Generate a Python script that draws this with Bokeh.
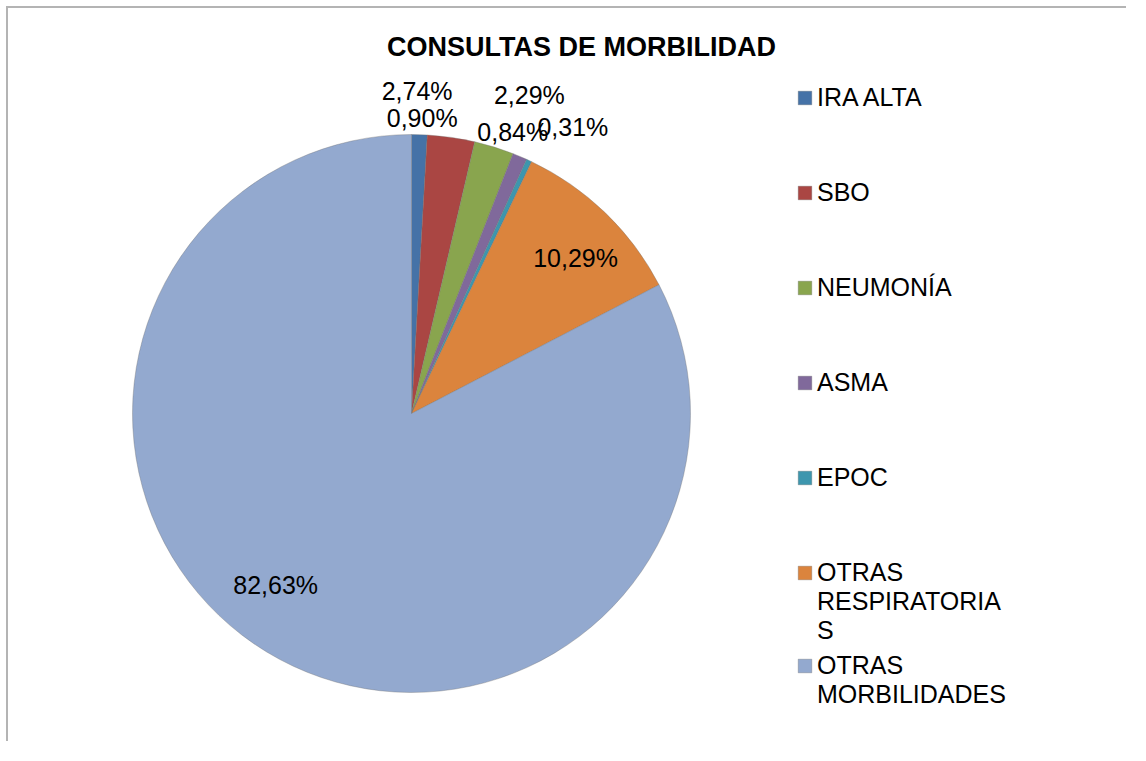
import math
from bokeh.plotting import figure
from bokeh.models import ColumnDataSource, Legend, LegendItem, Label, Range1d
from bokeh.core.properties import value
from bokeh.embed import file_html
from bokeh.resources import INLINE

# ---- data ----
categories = ["IRA ALTA", "SBO", "NEUMONÍA", "ASMA", "EPOC",
              "OTRAS RESPIRATORIAS", "OTRAS MORBILIDADES"]
percent = [0.90, 2.74, 2.29, 0.84, 0.31, 10.29, 82.63]
percent_labels = ["0,90%", "2,74%", "2,29%", "0,84%", "0,31%", "10,29%", "82,63%"]
colors = ["#4572A7", "#AA4643", "#89A54E", "#80699B", "#3D96AE", "#DB843D", "#93A9CF"]
# legend text as wrapped in the reference (first line carries the swatch)
legend_first_line = ["IRA ALTA", "SBO", "NEUMONÍA", "ASMA", "EPOC", "OTRAS", "OTRAS"]
legend_more_lines = [None, None, None, None, None, "RESPIRATORIA\nS", "MORBILIDADES"]

# ---- layout (screen-like units) ----
W, H = 1120, 735
CX, CY, R = 403, 330, 279
label_rfrac = [1.1, 1.1, 1.1, 1.1, 1.1, 0.8, 0.8]
label_nudge_x = [2, -38, 27, -18, 32, 9, -20]
label_nudge_y = [-11, 19, 25, -1, 8, -5, 19]

total = sum(percent)
starts, ends, lx, ly = [], [], [], []
cum = 0.0
for v, rf, nx, ny in zip(percent, label_rfrac, label_nudge_x, label_nudge_y):
    a0 = math.pi / 2 - 2 * math.pi * cum / total
    cum += v
    a1 = math.pi / 2 - 2 * math.pi * cum / total
    starts.append(a0)
    ends.append(a1)
    mid = (a0 + a1) / 2
    lx.append(CX + rf * R * math.cos(mid) + nx)
    ly.append(CY + rf * R * math.sin(mid) + ny)

src = ColumnDataSource(dict(lx=lx, ly=ly, lab=percent_labels))

p = figure(width=W, height=H, output_backend="svg", toolbar_location=None,
           x_range=Range1d(0, W), y_range=Range1d(0, H), min_border=0,
           tools="")
p.axis.visible = False
p.grid.visible = False
p.outline_line_color = None
p.background_fill_color = "white"
p.border_fill_color = "white"
p.styles = {"border-left": "2px solid #b4b4b4", "border-top": "2px solid #b4b4b4",
            "margin-left": "6px", "margin-top": "6px"}

wedges = []
for i in range(len(percent)):
    r = p.wedge(x=CX, y=CY, radius=R, radius_units="screen",
                start_angle=starts[i], end_angle=ends[i], direction="clock",
                fill_color=colors[i], line_color="#6f6f6f", line_alpha=0.35,
                line_width=1)
    wedges.append(r)

# invisible renderer used for the continuation lines of wrapped legend labels
blank = p.wedge(x=CX, y=CY, radius=0, start_angle=0, end_angle=0,
                fill_alpha=0, line_alpha=0)

p.text(x="lx", y="ly", text="lab", source=src, text_font=value("Liberation Sans"),
       text_font_size="25px", text_color="black", text_align="center",
       text_baseline="middle")

title = Label(x=573, y=697, text="CONSULTAS DE MORBILIDAD", text_font="Liberation Sans",
              text_font_size="27px", text_font_style="bold", text_align="center",
              text_baseline="middle", text_color="black")
p.add_layout(title)


def mk_legend(idx, loc, spacing):
    items = []
    for i in idx:
        items.append(LegendItem(label=legend_first_line[i], renderers=[wedges[i]]))
        if legend_more_lines[i]:
            items.append(LegendItem(label=legend_more_lines[i], renderers=[blank]))
    lg = Legend(items=items, location=loc, orientation="vertical",
                glyph_width=17, glyph_height=17, label_standoff=4,
                label_text_font="Liberation Sans", label_text_font_size="25px",
                label_text_color="black", label_text_line_height=1.12,
                label_height=28, spacing=spacing,
                padding=0, margin=0, border_line_alpha=0, background_fill_alpha=0)
    p.add_layout(lg, "center")
    return lg


mk_legend([0, 1, 2, 3, 4], (788, 251), 66)
mk_legend([5], (788, 98), 0)
mk_legend([6], (788, 34), 0)

open("out.html", "w").write(file_html(p, INLINE))
